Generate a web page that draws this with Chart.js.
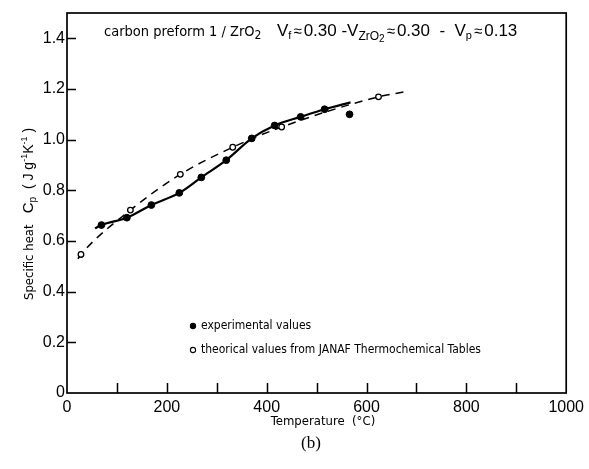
<!DOCTYPE html>
<html>
<head>
<meta charset="utf-8">
<script src="https://cdn.jsdelivr.net/npm/chart.js@4/dist/chart.umd.min.js"></script>
<style>
  html, body { margin: 0; padding: 0; background: #fff; }
  canvas { display: block; }
</style>
</head>
<body>
<canvas id="c" width="589" height="469"></canvas>
<script>
// Measured specific heat of carbon preform 1 / ZrO2 (filled dots)
const expTemp = [69, 120, 169, 225, 269, 319, 370, 416, 468, 516, 566];
const expCp   = [0.663, 0.692, 0.742, 0.790, 0.851, 0.919, 1.005, 1.056, 1.090, 1.120, 1.100];

// Values from JANAF Thermochemical Tables (open dots)
const janafTemp = [28, 127, 227, 332, 430, 624];
const janafCp   = [0.547, 0.722, 0.863, 0.970, 1.050, 1.169];

// Solid curve drawn through the measurements
const fitTemp = [56, 69, 120, 169, 225, 269, 319, 370, 416, 468, 516, 568];
const fitCp   = [0.650, 0.663, 0.692, 0.742, 0.790, 0.851, 0.919, 1.005, 1.056, 1.090, 1.120, 1.147];

// Dashed curve drawn through the JANAF values
const janafCurveTemp = [22, 28, 127, 227, 332, 430, 624, 680];
const janafCurveCp   = [0.530, 0.547, 0.722, 0.863, 0.970, 1.050, 1.169, 1.190];

// Axis ticks
const xTicks = [0, 100, 200, 300, 400, 500, 600, 700, 800, 900, 1000];
const yTicks = [0, 0.2, 0.4, 0.6, 0.8, 1.0, 1.2, 1.4];

const pts = (xs, ys) => xs.map((x, i) => ({ x: x, y: ys[i] }));

const NUM_FONT = "'Liberation Sans', Arial, sans-serif";
const LBL_FONT = "'DejaVu Sans Condensed', 'DejaVu Sans', sans-serif";

// Draw a run of text pieces with their own size and vertical shift
function drawRich(ctx, parts, x, y) {
  let cx = x;
  parts.forEach(p => {
    ctx.font = p.font;
    ctx.fillText(p.t, cx, y + (p.dy || 0));
    cx += ctx.measureText(p.t).width + (p.gap || 0);
  });
  return cx;
}

const framePlugin = {
  id: 'frame',
  afterDraw(chart) {
    const ctx = chart.ctx;
    const a = chart.chartArea;
    const xs = chart.scales.x, ys = chart.scales.y;
    ctx.save();
    ctx.strokeStyle = '#000';
    ctx.fillStyle = '#000';
    ctx.lineWidth = 1.7;
    ctx.strokeRect(a.left, a.top, a.right - a.left, a.bottom - a.top);

    // inward tick marks
    ctx.lineWidth = 1.5;
    ctx.beginPath();
    xTicks.forEach(v => {
      if (v <= xs.min || v >= xs.max) return;
      const px = Math.round(xs.getPixelForValue(v)) + 0.5;
      ctx.moveTo(px, a.bottom);
      ctx.lineTo(px, a.bottom - 10);
    });
    yTicks.forEach(v => {
      if (v <= ys.min || v >= ys.max) return;
      const py = Math.round(ys.getPixelForValue(v)) + 0.5;
      ctx.moveTo(a.left, py);
      ctx.lineTo(a.left + 9, py);
    });
    ctx.stroke();

    // heading inside the frame
    ctx.textBaseline = 'alphabetic';
    ctx.textAlign = 'left';
    drawRich(ctx, [
      { t: 'carbon preform 1 / ZrO', font: '14.5px ' + LBL_FONT },
      { t: '2', font: '12px ' + LBL_FONT, dy: 3 }
    ], 104, 36);
    drawRich(ctx, [
      { t: 'V', font: '17px ' + NUM_FONT },
      { t: 'f', font: '11px ' + NUM_FONT, dy: 3, gap: 2 },
      { t: '\u2248', font: '15px ' + NUM_FONT, gap: 2 },
      { t: '0.30 -V', font: '17px ' + NUM_FONT },
      { t: 'ZrO', font: '12px ' + NUM_FONT, dy: 4 },
      { t: '2', font: '10px ' + NUM_FONT, dy: 6, gap: 2 },
      { t: '\u2248', font: '15px ' + NUM_FONT, gap: 2 },
      { t: '0.30  -  V', font: '17px ' + NUM_FONT },
      { t: 'p', font: '11px ' + NUM_FONT, dy: 3, gap: 2 },
      { t: '\u2248', font: '15px ' + NUM_FONT, gap: 2 },
      { t: '0.13', font: '17px ' + NUM_FONT }
    ], 277, 36);

    // legend
    const lx = 193;
    const rows = [
      { y: 326, fill: '#000', text: 'experimental values' },
      { y: 350, fill: '#fff', text: 'theorical values from JANAF Thermochemical Tables' }
    ];
    rows.forEach(r => {
      ctx.beginPath();
      ctx.arc(lx, r.y, 2.6, 0, Math.PI * 2);
      ctx.fillStyle = r.fill;
      ctx.fill();
      ctx.lineWidth = 1.1;
      ctx.strokeStyle = '#000';
      ctx.stroke();
      ctx.fillStyle = '#000';
      ctx.font = '12px ' + LBL_FONT;
      ctx.textBaseline = 'middle';
      ctx.fillText(r.text, lx + 8, r.y);
    });

    // x axis title and panel label
    ctx.textBaseline = 'alphabetic';
    ctx.textAlign = 'center';
    ctx.font = '13px ' + LBL_FONT;
    ctx.fillText('Temperature  (\u00B0C)', 323, 425);
    ctx.font = "17px 'Liberation Serif', 'DejaVu Serif', serif";
    ctx.fillText('(b)', 311, 448);

    // y axis title, rotated
    ctx.textAlign = 'left';
    ctx.translate(33, 300);
    ctx.rotate(-Math.PI / 2);
    drawRich(ctx, [
      { t: 'Specific heat   ', font: '13px ' + LBL_FONT },
      { t: 'C', font: '15px ' + NUM_FONT },
      { t: 'p', font: '10px ' + NUM_FONT, dy: 3 },
      { t: '  ( J g', font: '14px ' + NUM_FONT },
      { t: '-1', font: '9px ' + NUM_FONT, dy: -6 },
      { t: 'K', font: '14px ' + NUM_FONT },
      { t: '-1', font: '9px ' + NUM_FONT, dy: -6 },
      { t: ' )', font: '14px ' + NUM_FONT }
    ], 0, 0);
    ctx.restore();
  }
};

new Chart(document.getElementById('c'), {
  type: 'scatter',
  data: {
    datasets: [
      {
        label: 'experimental values',
        data: pts(expTemp, expCp),
        showLine: false,
        pointRadius: 3.4,
        pointBackgroundColor: '#000',
        pointBorderColor: '#000',
        pointBorderWidth: 1
      },
      {
        label: 'theorical values from JANAF Thermochemical Tables',
        data: pts(janafTemp, janafCp),
        showLine: false,
        pointRadius: 2.8,
        pointBackgroundColor: '#fff',
        pointBorderColor: '#000',
        pointBorderWidth: 1.3
      },
      {
        label: 'fit',
        data: pts(fitTemp, fitCp),
        showLine: true,
        borderColor: '#000',
        borderWidth: 2.2,
        pointRadius: 0,
        tension: 0.4,
        cubicInterpolationMode: 'monotone'
      },
      {
        label: 'JANAF curve',
        data: pts(janafCurveTemp, janafCurveCp),
        showLine: true,
        borderColor: '#000',
        borderWidth: 1.5,
        borderDash: [8, 6],
        pointRadius: 0,
        tension: 0.4,
        cubicInterpolationMode: 'monotone'
      }
    ]
  },
  options: {
    responsive: false,
    animation: false,
    devicePixelRatio: 1,
    layout: { padding: { top: 13, right: 19, left: 0, bottom: 0 } },
    plugins: {
      legend: { display: false },
      tooltip: { enabled: false }
    },
    scales: {
      x: {
        type: 'linear',
        min: 0,
        max: 1000,
        grid: { display: false, drawTicks: false },
        border: { display: false },
        afterBuildTicks: s => { s.ticks = xTicks.map(v => ({ value: v })); },
        afterFit: s => { s.height = 76; },
        ticks: {
          autoSkip: false,
          maxRotation: 0,
          padding: 5,
          color: '#000',
          font: { family: NUM_FONT, size: 16 },
          callback: v => (v % 200 === 0 ? String(v) : '')
        }
      },
      y: {
        type: 'linear',
        min: 0,
        max: 1.5,
        grid: { display: false, drawTicks: false },
        border: { display: false },
        afterBuildTicks: s => { s.ticks = yTicks.map(v => ({ value: v })); },
        afterFit: s => { s.width = 67; },
        ticks: {
          autoSkip: false,
          padding: 2,
          color: '#000',
          font: { family: NUM_FONT, size: 16 },
          callback: v => (v === 0 ? '0' : v.toFixed(1))
        }
      }
    }
  },
  plugins: [framePlugin]
});
</script>
</body>
</html>
